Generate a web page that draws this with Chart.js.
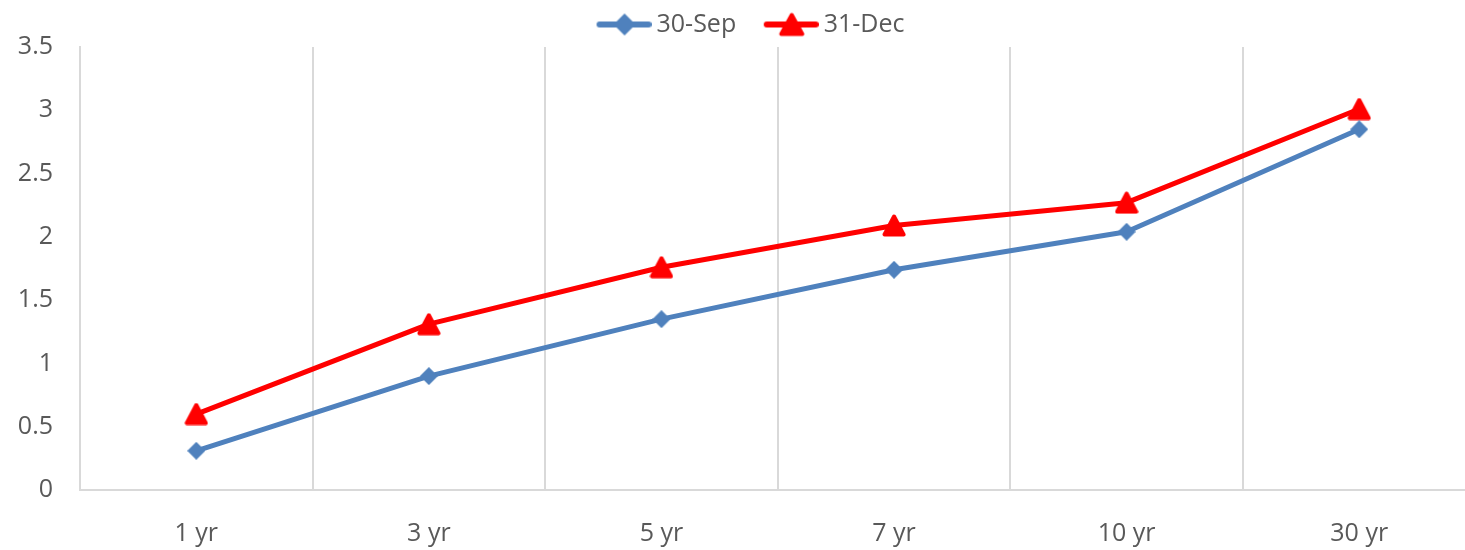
<!DOCTYPE html>
<html>
<head>
<meta charset="utf-8">
<script src="https://cdn.jsdelivr.net/npm/chart.js@4.4.0/dist/chart.umd.min.js"></script>
<style>
  html, body { margin: 0; padding: 0; background: #fff; overflow: hidden; }
  #wrap { width: 1498px; height: 550px; }
</style>
</head>
<body>
<div id="wrap"><canvas id="c" width="1498" height="550"></canvas></div>
<script>
// Yield curve by maturity at two quarter-ends
const maturities = ['1 yr', '3 yr', '5 yr', '7 yr', '10 yr', '30 yr'];
const yieldsSep30 = [0.31, 0.90, 1.35, 1.74, 2.04, 2.85];
const yieldsDec31 = [0.60, 1.31, 1.76, 2.09, 2.27, 3.01];
const seriesNames = ['30-Sep', '31-Dec'];
const yMin = 0, yMax = 3.5, yStep = 0.5;

const BLUE = '#4F81BD', RED = '#FF0000', GRID = '#D9D9D9', TEXT = '#595959';
const FONT = "'Open Sans', sans-serif";
const FONT_SIZE = 25;

// Marker images
function diamond(size, color) {
  const c = document.createElement('canvas');
  c.width = c.height = size;
  const g = c.getContext('2d');
  g.fillStyle = color;
  g.beginPath();
  g.moveTo(size / 2, 0); g.lineTo(size, size / 2);
  g.lineTo(size / 2, size); g.lineTo(0, size / 2);
  g.closePath(); g.fill();
  return c;
}
function triangle(w, h, color) {
  const c = document.createElement('canvas');
  c.width = w; c.height = h;
  const g = c.getContext('2d');
  g.fillStyle = color; g.strokeStyle = color;
  g.lineWidth = 4; g.lineJoin = 'round';
  g.beginPath();
  g.moveTo(w / 2, 2.5); g.lineTo(w - 2.5, h - 2.5); g.lineTo(2.5, h - 2.5);
  g.closePath(); g.fill(); g.stroke();
  return c;
}
// Legend swatch: a line with the marker in its middle, placed in the right part of the image
function legendSwatch(marker, color) {
  const W = 80, H = 28, x0 = 25, x1 = 80, cy = H / 2;
  const c = document.createElement('canvas');
  c.width = W; c.height = H;
  const g = c.getContext('2d');
  g.strokeStyle = color; g.lineWidth = 6; g.lineCap = 'round';
  g.beginPath(); g.moveTo(x0 + 3, cy); g.lineTo(x1 - 3, cy); g.stroke();
  const mx = (x0 + x1) / 2;
  g.drawImage(marker, Math.round(mx - marker.width / 2), Math.round(cy - marker.height / 2));
  return c;
}

const diamondPt = diamond(18, BLUE);
const trianglePt = triangle(24, 23, RED);
const swatches = [
  legendSwatch(diamond(22, BLUE), BLUE),
  legendSwatch(triangle(26, 24, RED), RED)
];

new Chart(document.getElementById('c'), {
  type: 'line',
  data: {
    labels: maturities,
    datasets: [
      {
        label: seriesNames[0],
        data: yieldsSep30,
        borderColor: BLUE,
        backgroundColor: BLUE,
        borderWidth: 5,
        borderJoinStyle: 'round',
        borderCapStyle: 'round',
        pointStyle: diamondPt,
        pointRadius: 9,
        tension: 0
      },
      {
        label: seriesNames[1],
        data: yieldsDec31,
        borderColor: RED,
        backgroundColor: RED,
        borderWidth: 5,
        borderJoinStyle: 'round',
        borderCapStyle: 'round',
        pointStyle: trianglePt,
        pointRadius: 12,
        tension: 0
      }
    ]
  },
  options: {
    responsive: false,
    animation: false,
    events: [],
    layout: { padding: { top: 2, right: 22.5, left: 8, bottom: 0 } },
    plugins: {
      tooltip: { enabled: false },
      legend: {
        position: 'top',
        align: 'center',
        labels: {
          usePointStyle: true,
          pointStyleWidth: 65,
          padding: 10,
          color: TEXT,
          font: { family: FONT, size: FONT_SIZE },
          generateLabels(chart) {
            const items = Chart.defaults.plugins.legend.labels.generateLabels(chart);
            items.forEach((it, i) => { it.pointStyle = swatches[i]; });
            return items;
          }
        }
      }
    },
    scales: {
      x: {
        type: 'category',
        offset: true,
        grid: { display: true, offset: true, color: GRID, lineWidth: 2, drawTicks: false },
        border: { display: true, color: GRID, width: 2 },
        ticks: { color: TEXT, font: { family: FONT, size: FONT_SIZE }, padding: 29, maxRotation: 0 },
        afterFit(s) { s.height = 60; }
      },
      y: {
        min: yMin,
        max: yMax,
        grid: { display: false, drawTicks: false },
        border: { display: true, color: GRID, width: 2 },
        ticks: {
          stepSize: yStep,
          color: TEXT,
          font: { family: FONT, size: FONT_SIZE },
          padding: 27,
          callback: (v) => String(v)
        },
        afterFit(s) { s.width = 72; }
      }
    }
  }
});
</script>
</body>
</html>
